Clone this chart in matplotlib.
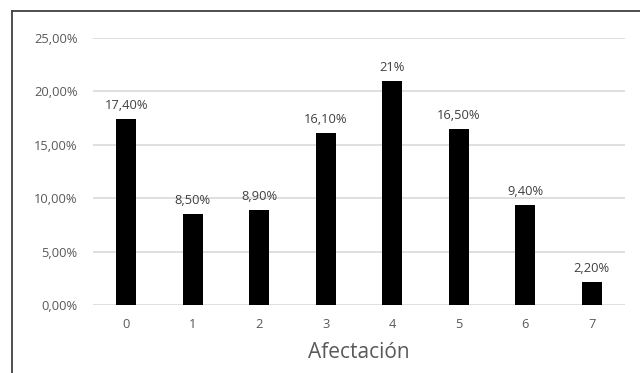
import numpy as np
import matplotlib.pyplot as plt
from matplotlib.lines import Line2D
from matplotlib.ticker import FuncFormatter

plt.rcParams['font.family'] = ['Open Sans', 'DejaVu Sans']

# Distribution by level of affectation
categorias = ['0', '1', '2', '3', '4', '5', '6', '7']
porcentajes = [17.4, 8.5, 8.9, 16.1, 21.0, 16.5, 9.4, 2.2]
etiquetas = ['17,40%', '8,50%', '8,90%', '16,10%', '21%', '16,50%', '9,40%', '2,20%']
yticks = [0, 5, 10, 15, 20, 25]

fig = plt.figure(figsize=(6.4, 3.73), dpi=100)
ax = fig.add_axes([0.1453, 0.1823, 0.8313, 0.7158])

x = np.arange(len(categorias))
bars = ax.bar(x, porcentajes, width=0.30, color='black', zorder=3)

for b, lab in zip(bars, etiquetas):
    ax.annotate(lab, (b.get_x() + b.get_width() / 2, b.get_height()),
                xytext=(0, 5), textcoords='offset points',
                ha='center', va='bottom', fontsize=9.3, color='#404040')

ax.set_xlim(-0.5, len(categorias) - 0.5)
ax.set_ylim(0, 25)
ax.set_yticks(yticks)
ax.yaxis.set_major_formatter(FuncFormatter(lambda v, p: f'{v:.2f}%'.replace('.', ',')))
ax.set_xticks(x)
ax.set_xticklabels(categorias)
ax.tick_params(axis='both', length=0, labelsize=9.3, labelcolor='#595959')
ax.tick_params(axis='y', pad=11)
ax.tick_params(axis='x', pad=9)

ax.grid(axis='y', color='#d9d9d9', linewidth=1.2, zorder=0)
for s in ax.spines.values():
    s.set_visible(False)

ax.set_xlabel('Afectación', fontsize=15, color='#595959', labelpad=8)

# frame lines on the top and left of the figure
fig.add_artist(Line2D([12 / 640, 1.0], [1 - 11 / 373] * 2, color='#404040', lw=1.3))
fig.add_artist(Line2D([12 / 640] * 2, [0, 1 - 11 / 373], color='#404040', lw=1.3))

fig.savefig('out.png', dpi=100, facecolor='white')
